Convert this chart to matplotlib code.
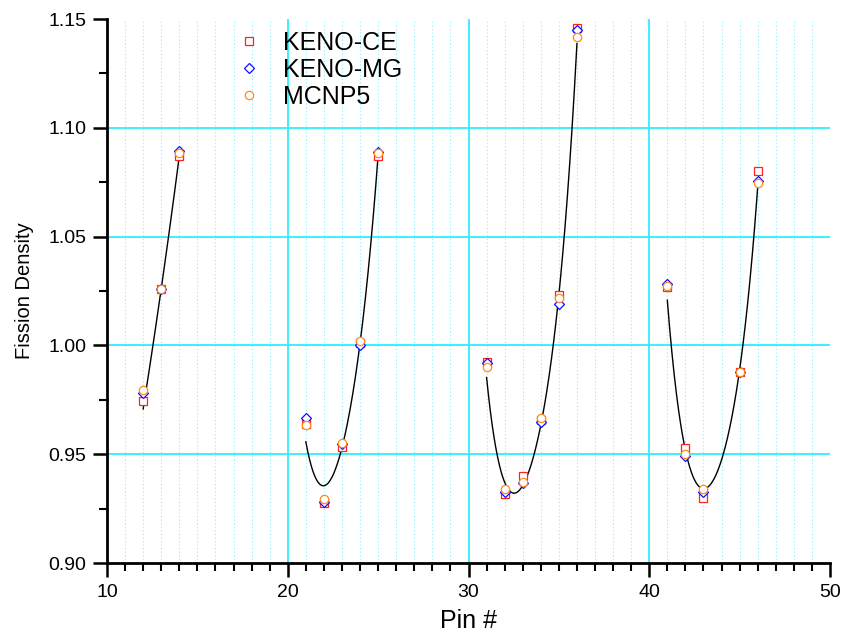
import numpy as np
import matplotlib
matplotlib.use("Agg")
import matplotlib.pyplot as plt
from matplotlib.ticker import MultipleLocator, FormatStrFormatter

plt.rcParams['font.family'] = ['Liberation Sans', 'DejaVu Sans']

# ---- data ----
pins = [12, 13, 14, 21, 22, 23, 24, 25, 31, 32, 33, 34, 35, 36, 41, 42, 43, 45, 46]
keno_ce = [0.9746, 1.0259, 1.0870, 0.9640, 0.9277, 0.9535, 1.0010, 1.0870,
           0.9925, 0.9316, 0.9400, 0.9655, 1.0232, 1.1460,
           1.0267, 0.9527, 0.9297, 0.9880, 1.0803]
keno_mg = [0.9783, 1.0259, 1.0893, 0.9665, 0.9282, 0.9546, 1.0002, 1.0890,
           0.9920, 0.9325, 0.9366, 0.9649, 1.0189, 1.1450,
           1.0282, 0.9492, 0.9328, 0.9880, 1.0757]
mcnp5 = [0.9795, 1.0260, 1.0883, 0.9634, 0.9293, 0.9553, 1.0020, 1.0883,
         0.9900, 0.9339, 0.9374, 0.9668, 1.0216, 1.1416,
         1.0273, 0.9500, 0.9339, 0.9880, 1.0748]

# fitted trend curves (values read at each pin of a group)
fit_x_1 = [12, 13, 14]
fit_y_1 = [0.9708, 1.0260, 1.0870]
fit_x_2 = [21, 22, 23, 24, 25]
fit_y_2 = [0.9557, 0.9355, 0.9530, 1.0010, 1.0875]
fit_x_3 = [31, 32, 33, 34, 35, 36]
fit_y_3 = [0.9852, 0.9374, 0.9350, 0.9640, 1.0230, 1.1388]
fit_x_4 = [41, 42, 43, 44, 45, 46]
fit_y_4 = [1.0206, 0.9527, 0.9325, 0.9490, 0.9880, 1.0730]

x_major = [10, 20, 30, 40, 50]
y_major = [0.90, 0.95, 1.00, 1.05, 1.10, 1.15]

fig = plt.figure(figsize=(8.45, 6.39), dpi=100)
ax = fig.add_axes([107/845, 1-563/639, (830-107)/845, (563-19)/639])
ax.set_xlim(10, 50)
ax.set_ylim(0.90, 1.15)

# grid (inner lines only, as in the reference)
for xv in range(11, 50):
    if xv % 10 != 0:
        ax.axvline(xv, color='#8FF5FF', lw=0.8, ls=(0, (1.2, 2.0)), zorder=0)
for xv in x_major[1:-1]:
    ax.axvline(xv, color='#2EEEFF', lw=1.3, zorder=0.5)
for yv in y_major[1:-1]:
    ax.axhline(yv, color='#2EEEFF', lw=1.3, zorder=0.5)

# trend curves
for fx, fy in [(fit_x_1, fit_y_1), (fit_x_2, fit_y_2), (fit_x_3, fit_y_3), (fit_x_4, fit_y_4)]:
    deg = min(len(fx) - 1, 4)
    coef = np.polyfit(fx, fy, deg)
    xx = np.linspace(fx[0], fx[-1], 200)
    ax.plot(xx, np.polyval(coef, xx), color='black', lw=1.0, zorder=2)

ax.plot(pins, keno_ce, ls='none', marker='s', ms=5.5, mfc='white', mec='#FF2020', mew=0.9,
        label='KENO-CE', zorder=3)
ax.plot(pins, keno_mg, ls='none', marker='D', ms=5.5, mfc='white', mec='#1010FF', mew=0.9,
        label='KENO-MG', zorder=4)
ax.plot(pins, mcnp5, ls='none', marker='o', ms=6, mfc='white', mec='#FF8C1A', mew=0.9,
        label='MCNP5', zorder=5)

ax.xaxis.set_major_locator(MultipleLocator(10))
ax.xaxis.set_minor_locator(MultipleLocator(1))
ax.yaxis.set_major_locator(MultipleLocator(0.05))
ax.yaxis.set_minor_locator(MultipleLocator(0.025))
ax.yaxis.set_major_formatter(FormatStrFormatter('%.2f'))

for s in ['top', 'right']:
    ax.spines[s].set_visible(False)
for s in ['left', 'bottom']:
    ax.spines[s].set_linewidth(2.0)
ax.tick_params(which='major', direction='out', length=10, width=1.8, labelsize=14, pad=5)
ax.tick_params(which='minor', direction='out', length=6, width=1.5)

ax.set_xlabel('Pin #', fontsize=18, labelpad=6)
ax.set_ylabel('Fission Density', fontsize=14.5, labelpad=10)

leg = ax.legend(loc='upper left', bbox_to_anchor=(236.5/845, 1-31/639), bbox_transform=fig.transFigure,
                frameon=False, fontsize=18, handlelength=1.0, handletextpad=0.86,
                labelspacing=0.12, borderaxespad=0, borderpad=0)

fig.savefig('out.png', dpi=100)
